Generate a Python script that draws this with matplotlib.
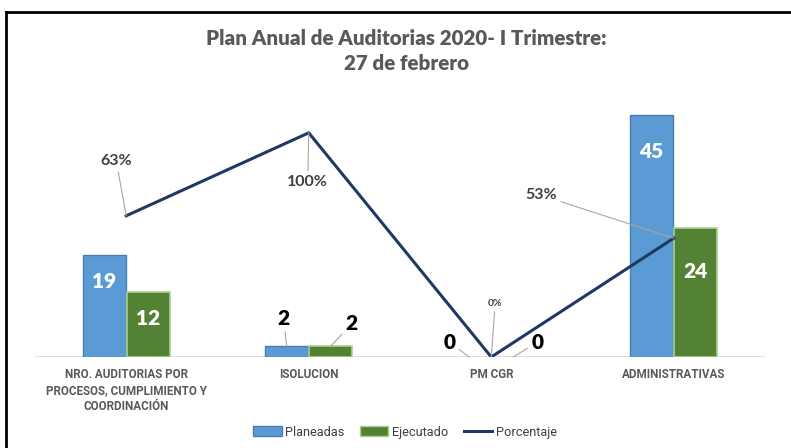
import matplotlib
matplotlib.use("Agg")
import matplotlib.pyplot as plt
from matplotlib.lines import Line2D
from matplotlib.patches import Patch
import numpy as np

categories = ["NRO. AUDITORIAS POR\nPROCESOS, CUMPLIMIENTO Y\nCOORDINACIÓN", "ISOLUCION", "PM CGR", "ADMINISTRATIVAS"]
planeadas = [19, 2, 0, 45]
ejecutado = [12, 2, 0, 24]
porcentaje = [0.63, 1.00, 0.00, 0.53]
pct_labels = ["63%", "100%", "0%", "53%"]

title = "Plan Anual de Auditorias 2020- I Trimestre:\n27 de febrero"

BLUE = "#5B9BD5"
BLUE_EDGE = "#4A7EB0"
GREEN = "#548235"
GREEN_EDGE = "#A9D18E"
NAVY = "#1F3864"
GRAY = "#595959"
LEAD = "#A6A6A6"

fig = plt.figure(figsize=(7.91, 4.48), dpi=100)
ax = fig.add_axes([35/791, 91/448, 730/791, 269/448])
ax2 = ax.twinx()

x = np.arange(len(categories))
w = 0.236
off = 0.121
bars_p = ax.bar(x - off, planeadas, w, color=BLUE, edgecolor=BLUE_EDGE,
                linewidth=[1.0 if v > 0 else 0 for v in planeadas], zorder=2)
bars_e = ax.bar(x + off, ejecutado, w, color=GREEN, edgecolor=GREEN_EDGE,
                linewidth=[1.2 if v > 0 else 0 for v in ejecutado], zorder=2)
ax.set_xlim(-0.5, len(categories) - 0.5)
ax.set_ylim(0, 50)
ax.axhline(0, color="#D9D9D9", lw=1.2, zorder=1)
for a in (ax, ax2):
    for s in a.spines.values():
        s.set_visible(False)
ax.set_yticks([])
ax2.set_yticks([])
ax.set_xticks(x)
ax.set_xticklabels(categories, fontsize=8.4, fontweight="bold", color=GRAY,
                   family=["Roboto", "DejaVu Sans"], linespacing=1.3, va="top")
ax.tick_params(axis="x", length=0, pad=8)

ax2.plot(x, porcentaje, color=NAVY, lw=2.2, zorder=3)
ax2.set_ylim(0, 1.2)

big = dict(fontsize=15, fontweight="heavy", family=["Lato", "DejaVu Sans"])
leader = dict(arrowstyle="-", color=LEAD, lw=0.8, shrinkA=1, shrinkB=0)

# inside labels (white)
inside_offsets_p = {0: -27, 3: -37}
inside_offsets_e = {0: -26, 3: -44}
for i, dy in inside_offsets_p.items():
    ax.annotate(str(planeadas[i]), (x[i] - off, planeadas[i]), xytext=(0, dy),
                textcoords="offset pixels", ha="center", va="center", color="white", **big)
for i, dy in inside_offsets_e.items():
    ax.annotate(str(ejecutado[i]), (x[i] + off, ejecutado[i]), xytext=(0, dy),
                textcoords="offset pixels", ha="center", va="center", color="white", **big)

# outside labels with leaders (black)
ax.annotate(str(planeadas[1]), (x[1] - off, planeadas[1]), xytext=(-3, 28),
            textcoords="offset pixels", ha="center", va="center", color="black",
            arrowprops=leader, **big)
ax.annotate(str(ejecutado[1]), (x[1] + off, ejecutado[1]), xytext=(21, 23),
            textcoords="offset pixels", ha="center", va="center", color="black",
            arrowprops=leader, **big)
ax.annotate(str(planeadas[2]), (x[2] - off, planeadas[2]), xytext=(-20, 15),
            textcoords="offset pixels", ha="center", va="center", color="black",
            arrowprops=leader, **big)
ax.annotate(str(ejecutado[2]), (x[2] + off, ejecutado[2]), xytext=(24, 15),
            textcoords="offset pixels", ha="center", va="center", color="black",
            arrowprops=leader, **big)

# percentage labels
pct_offsets = [(-10, 55), (-1, -49), (4, 54), (-133, 43)]
pct_sizes = [11.5, 11.5, 7.5, 11.5]
for i, (dx, dy) in enumerate(pct_offsets):
    ax2.annotate(pct_labels[i], (x[i], porcentaje[i]), xytext=(dx, dy),
                 textcoords="offset pixels", ha="center", va="center", color="#404040",
                 fontsize=pct_sizes[i], fontweight="bold", family=["Lato", "DejaVu Sans"],
                 arrowprops=leader, zorder=4)

fig.text(406/791, 1 - 51/448, title, ha="center", va="center", fontsize=14.8,
         fontweight="heavy", color=GRAY, family=["Lato", "DejaVu Sans"], linespacing=1.35)

handles = [Patch(facecolor=BLUE, edgecolor=BLUE_EDGE, label="Planeadas"),
           Patch(facecolor=GREEN, edgecolor=GREEN_EDGE, label="Ejecutado"),
           Line2D([0], [0], color=NAVY, lw=2.2, label="Porcentaje")]
fig.legend(handles=handles, loc="center", bbox_to_anchor=(405/791, 16/448), ncol=3,
           frameon=False, prop={"family": ["Roboto", "DejaVu Sans"], "size": 9.2},
           labelcolor="#404040", handlelength=2.2, handleheight=0.8, handletextpad=0.3,
           columnspacing=1.2)

# outer chart border (left and top visible)
fig.add_artist(Line2D([6/791, 6/791], [0, 1 - 12/448], color="black", lw=2, transform=fig.transFigure))
fig.add_artist(Line2D([6/791, 1], [1 - 12/448, 1 - 12/448], color="black", lw=2, transform=fig.transFigure))

fig.savefig("out.png", dpi=100)
